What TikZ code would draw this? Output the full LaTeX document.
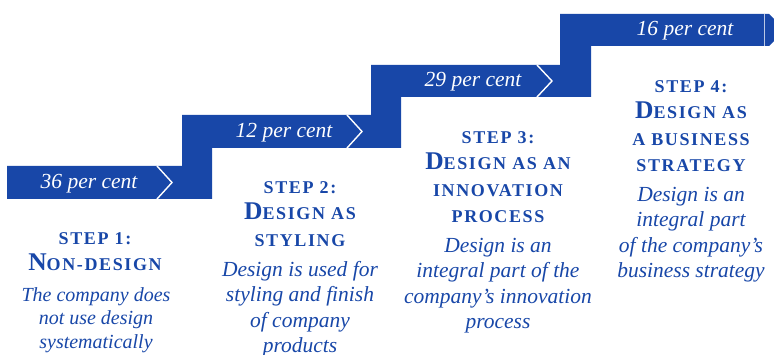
\documentclass[tikz,border=0pt]{standalone}
\usepackage{fontspec}
\setmainfont{Liberation Serif}
\definecolor{stairblue}{HTML}{1847A8}
\newcommand\bigC[1]{{\fontsize{25.5}{25.5}\selectfont #1}}
\tikzset{
  pct/.style={text=white,font=\itshape\fontsize{21.5}{21.5}\selectfont,inner sep=0pt,anchor=center},
  head/.style={text=stairblue,font=\bfseries\addfontfeature{LetterSpace=9}\fontsize{18}{26.5}\selectfont,align=center,inner sep=0pt,anchor=north},
  desc/.style={text=stairblue,font=\itshape\fontsize{21.5}{25.5}\selectfont,align=center,inner sep=0pt,anchor=north},
  chev/.style={draw=white,line width=1.4pt},
}
\begin{document}
\begin{tikzpicture}[x=1pt,y=-1pt]
\useasboundingbox (0,0) rectangle (774,355);
\begin{scope}
\clip (0,0) rectangle (774,355);
\fill[stairblue] (7,166) -- (182,166) -- (182,115) -- (371,115) -- (371,65) -- (560,65) -- (560,14)
  -- (769,14) -- (785,30) -- (769,46) -- (591,46) -- (591,97) -- (401,97) -- (401,148)
  -- (212,148) -- (212,199) -- (7,199) -- cycle;
\draw[chev] (157,166) -- (172,182.5) -- (157,199);
\draw[chev] (347,115) -- (362,131.5) -- (347,148);
\draw[chev] (537,65) -- (552,81) -- (537,97);
\draw[white!70!stairblue,line width=0.8pt] (764,14) -- (764,46);
\end{scope}
\node[pct] (p1) at (89,184) {36 per cent};
\node[pct] (p2) at (284,133) {12 per cent};
\node[pct] (p3) at (473,82) {29 per cent};
\node[pct] (p4) at (685,31) {16 per cent};
% step 1
\node[head] (h1) at (95,232) {STEP 1:\\\bigC{N}ON-DESIGN};
\node[desc,font=\itshape\fontsize{20}{23.5}\selectfont] (d1) at (96,287) {The company does\\not use design\\systematically};
% step 2
\node[head] (h2) at (300,181) {STEP 2:\\\bigC{D}ESIGN AS\\STYLING};
\node[desc] (d2) at (300,261) {Design is used for\\styling and finish\\of company\\products};
% step 3
\node[head] (h3) at (498,131) {STEP 3:\\\bigC{D}ESIGN AS AN\\INNOVATION\\PROCESS};
\node[desc] (d3) at (498,238) {Design is an\\integral part of the\\company’s innovation\\process};
% step 4
\node[head] (h4) at (691,80) {STEP 4:\\\bigC{D}ESIGN AS\\A BUSINESS\\STRATEGY};
\node[desc] (d4) at (691,187) {Design is an\\integral part\\of the company’s\\business strategy};
\end{tikzpicture}
\end{document}
